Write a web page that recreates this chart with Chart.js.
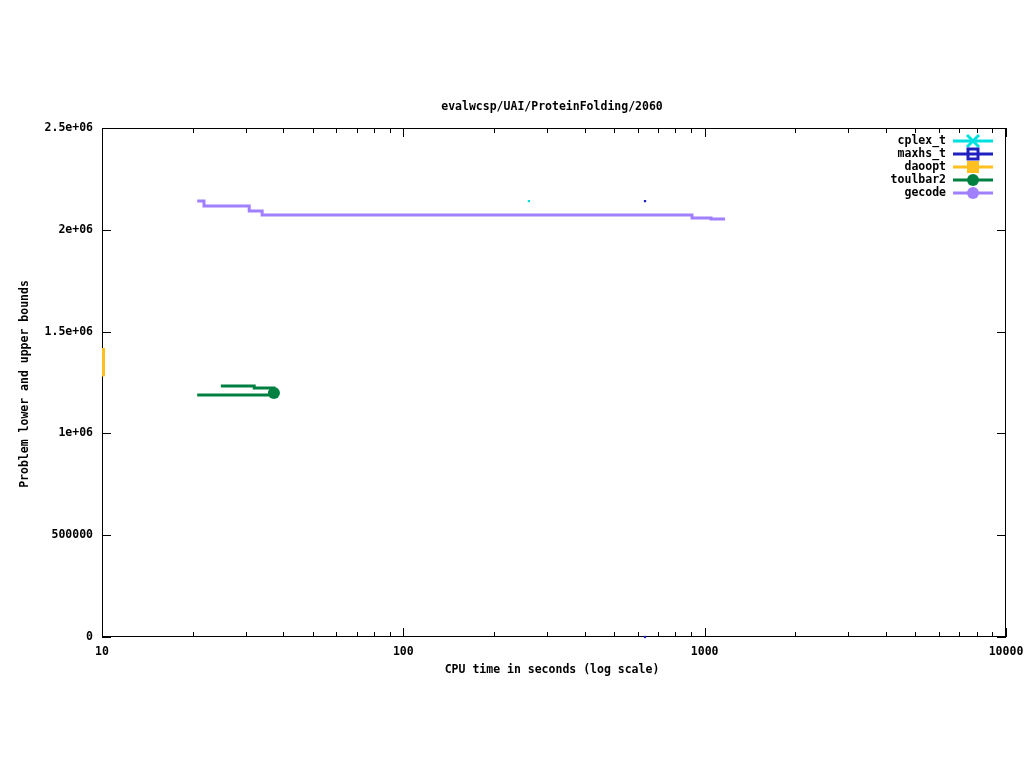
<!DOCTYPE html>
<html>
<head>
<meta charset="utf-8">
<style>
  html, body { margin: 0; padding: 0; background: #fff; }
  canvas { display: block; }
</style>
<script src="https://cdn.jsdelivr.net/npm/chart.js@4/dist/chart.umd.min.js"></script>
</head>
<body>
<canvas id="chart" width="1024" height="768"></canvas>
<script>
const FONT = "DejaVu Sans Mono";

const titleText = "evalwcsp/UAI/ProteinFolding/2060";
const xTitle = "CPU time in seconds (log scale)";
const yTitle = "Problem lower and upper bounds";

const xTicks = [10, 100, 1000, 10000];
const yTicks = [0, 500000, 1000000, 1500000, 2000000, 2500000];
const yTickLabels = ["0", "500000", "1e+06", "1.5e+06", "2e+06", "2.5e+06"];

const cplexX = [261];
const cplexY = [2141000];

const maxhsX = [634, 634];
const maxhsY = [2141000, 0];

const daooptX = [10.08, 10.08, 10.15];
const daooptY = [1419000, 1302000, 1280000];

const toulbarUpX = [24.8, 32.0, 37.2];
const toulbarUpY = [1233000, 1223000, 1198000];
const toulbarLowX = [20.7, 37.2];
const toulbarLowY = [1189000, 1189000];

const gecodeX = [20.7, 21.8, 30.8, 34.0, 908, 1050, 1169];
const gecodeY = [2141000, 2117000, 2092000, 2073000, 2058000, 2053000, 2053000];

const solvers = ["cplex_t", "maxhs_t", "daoopt", "toulbar2", "gecode"];
const colors = {
  cplex_t: "#00e0e0",
  maxhs_t: "#2020c0",
  daoopt: "#ffc020",
  toulbar2: "#008040",
  gecode: "#a080ff",
};

const pts = (xs, ys) => xs.map((x, i) => ({ x: x, y: ys[i] }));

const ctx = document.getElementById("chart").getContext("2d");

const drawMarker = (c, name, x, y) => {
  c.save();
  c.strokeStyle = colors[name];
  c.fillStyle = colors[name];
  if (name === "cplex_t") {
    c.lineWidth = 3;
    c.beginPath();
    c.moveTo(x - 6, y - 6); c.lineTo(x + 6, y + 6);
    c.moveTo(x + 6, y - 6); c.lineTo(x - 6, y + 6);
    c.stroke();
  } else if (name === "maxhs_t") {
    c.lineWidth = 3;
    c.strokeRect(x - 5, y - 5, 10, 10);
  } else if (name === "daoopt") {
    c.fillRect(x - 6, y - 6, 12, 12);
  } else {
    c.beginPath();
    c.arc(x, y, 6, 0, Math.PI * 2);
    c.fill();
  }
  c.restore();
};

// frame + ticks go under the data, texts and key go on top
const framePlugin = {
  id: "frame",
  beforeDatasetsDraw(chart) {
    const c = chart.ctx;
    const a = chart.chartArea;
    const xs = chart.scales.x;
    const ys = chart.scales.y;
    c.save();
    c.strokeStyle = "#000";
    c.lineWidth = 1;
    c.strokeRect(a.left + 0.5, a.top + 0.5, a.right - a.left - 1, a.bottom - a.top - 1);

    c.beginPath();
    yTicks.forEach((v) => {
      const py = Math.round(ys.getPixelForValue(v)) + 0.5;
      c.moveTo(a.left, py); c.lineTo(a.left + 9, py);
      c.moveTo(a.right, py); c.lineTo(a.right - 9, py);
    });
    for (let d = 10; d < 10000; d *= 10) {
      for (let k = 1; k <= 10; k++) {
        const v = d * k;
        const px = Math.round(xs.getPixelForValue(v)) + 0.5;
        const len = (k === 1 || k === 10) ? 9 : 5;
        c.moveTo(px, a.bottom); c.lineTo(px, a.bottom - len);
        c.moveTo(px, a.top); c.lineTo(px, a.top + len);
      }
    }
    c.stroke();
    c.restore();
  },
  afterDraw(chart) {
    const c = chart.ctx;
    c.save();
    c.fillStyle = "#000";
    c.font = "bold 11.5px '" + FONT + "'";
    c.textAlign = "center";
    c.textBaseline = "middle";
    c.fillText(titleText, 552, 107);
    c.fillText(xTitle, 552, 670);
    c.save();
    c.translate(25, 384);
    c.rotate(-Math.PI / 2);
    c.fillText(yTitle, 0, 0);
    c.restore();

    // legend
    c.textAlign = "right";
    solvers.forEach((name, i) => {
      const ly = 141 + i * 13;
      c.fillStyle = "#000";
      c.fillText(name, 946, ly);
      c.strokeStyle = colors[name];
      c.lineWidth = 3;
      c.beginPath();
      c.moveTo(953, ly); c.lineTo(993, ly);
      c.stroke();
      drawMarker(c, name, 973, ly);
    });
    c.restore();
  },
};

const chart = new Chart(ctx, {
  type: "line",
  data: {
    datasets: [
      {
        label: "cplex_t",
        data: pts(cplexX, cplexY),
        showLine: false,
        pointStyle: "rect",
        pointRadius: 1.6,
        borderWidth: 0,
        backgroundColor: colors.cplex_t,
        borderColor: colors.cplex_t,
      },
      {
        label: "maxhs_t",
        data: pts(maxhsX, maxhsY),
        showLine: false,
        pointStyle: "rect",
        pointRadius: 1.6,
        borderWidth: 0,
        backgroundColor: colors.maxhs_t,
        borderColor: colors.maxhs_t,
        clip: false,
      },
      {
        label: "daoopt",
        data: pts(daooptX, daooptY),
        borderColor: colors.daoopt,
        borderWidth: 3,
        pointRadius: 0,
      },
      {
        label: "toulbar2",
        data: pts(toulbarUpX, toulbarUpY),
        borderColor: colors.toulbar2,
        backgroundColor: colors.toulbar2,
        borderWidth: 3,
        stepped: true,
        pointRadius: [0, 0, 6],
        pointBorderWidth: 0,
      },
      {
        label: "toulbar2 lower",
        data: pts(toulbarLowX, toulbarLowY),
        borderColor: colors.toulbar2,
        borderWidth: 3,
        pointRadius: 0,
      },
      {
        label: "gecode",
        data: pts(gecodeX, gecodeY),
        borderColor: colors.gecode,
        borderWidth: 3,
        stepped: true,
        pointRadius: 0,
      },
    ],
  },
  options: {
    responsive: false,
    animation: false,
    layout: {
      padding: { left: 0, right: 18, top: 128, bottom: 71 },
    },
    scales: {
      x: {
        type: "logarithmic",
        min: 10,
        max: 10000,
        afterBuildTicks: (s) => {
          s.ticks = xTicks.map((v) => ({ value: v }));
        },
        afterFit: (s) => {
          s.height = 60;
          s.paddingLeft = 0;
          s.paddingRight = 0;
        },
        grid: { display: false, drawTicks: false },
        border: { display: false },
        ticks: {
          autoSkip: false,
          maxRotation: 0,
          padding: 8,
          color: "#000",
          font: { family: FONT, size: 11.5, weight: "bold" },
          callback: (v) => String(v),
        },
      },
      y: {
        type: "linear",
        min: 0,
        max: 2500000,
        afterBuildTicks: (s) => {
          s.ticks = yTicks.map((v) => ({ value: v }));
        },
        afterFit: (s) => {
          s.width = 102;
          s.paddingTop = 0;
          s.paddingBottom = 0;
        },
        grid: { display: false, drawTicks: false },
        border: { display: false },
        ticks: {
          autoSkip: false,
          padding: 9,
          color: "#000",
          font: { family: FONT, size: 11.5, weight: "bold" },
          callback: (v) => yTickLabels[yTicks.indexOf(v)],
        },
      },
    },
    plugins: {
      legend: { display: false },
      tooltip: { enabled: false },
    },
  },
  plugins: [framePlugin],
});
</script>
</body>
</html>
